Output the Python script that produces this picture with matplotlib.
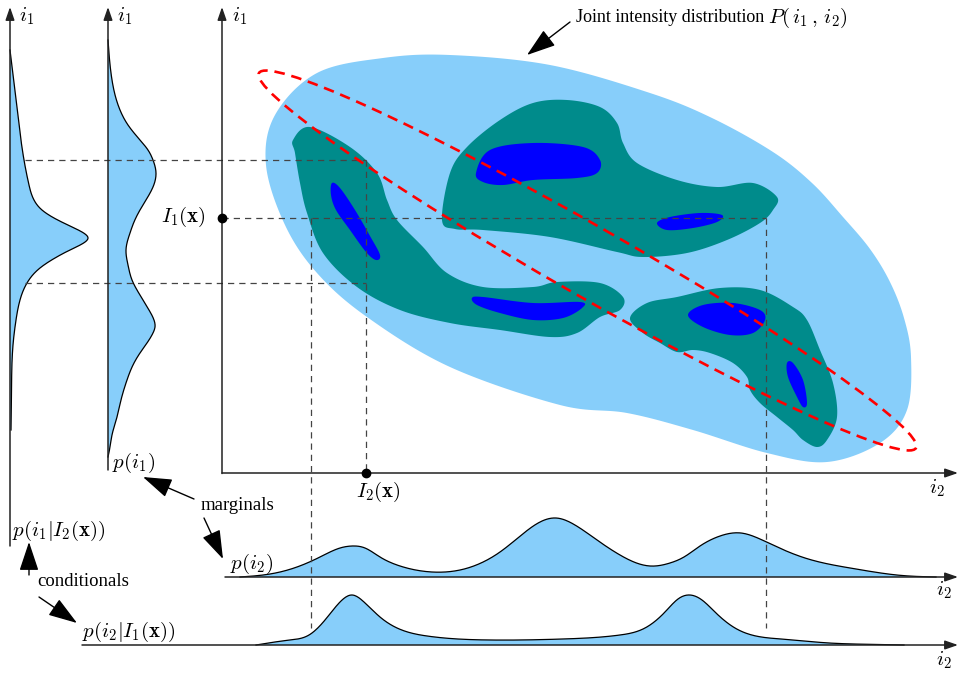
import numpy as np
import matplotlib
matplotlib.use('Agg')
import matplotlib.pyplot as plt
from matplotlib.patches import Polygon, Ellipse

plt.rcParams['mathtext.fontset'] = 'cm'
plt.rcParams['font.family'] = ['Liberation Serif', 'DejaVu Serif']

# ---------------- data (pixel-space diagram values) ----------------
# conditional p(i1 | I2(x)) : position along i1 axis, density value
cond_i1_pos = [50, 100, 133, 160, 185, 200, 210, 218, 226, 232, 238, 244, 250, 258, 268, 283, 300, 320, 345, 390, 430]
cond_i1_val = [0, 6, 10, 14, 19, 24, 32, 44, 60, 72, 78, 72, 60, 45, 30, 17, 10, 6, 3, 1.5, 1]

# marginal p(i1)
marg_i1_pos = [40, 80, 110, 125, 140, 150, 160, 173, 187, 200, 210, 222, 233, 250, 265, 280, 290, 300, 310,
               320, 327, 333, 343, 353, 365, 380, 400, 417, 435, 447, 457]
marg_i1_val = [0, 4, 12, 20, 32, 40, 45, 48, 45, 38, 32, 26, 22, 18, 20, 24, 29, 35, 41,
               46, 47, 45, 39, 32, 25, 19, 13, 9, 4, 2, 0]

# marginal p(i2)
marg_i2_pos = [240, 270, 297, 320, 340, 352, 365, 380, 400, 432, 460, 481, 500, 519, 540, 556, 575, 597, 620,
               650, 670, 684, 700, 720, 741, 760, 775, 805, 853, 902, 936]
marg_i2_val = [0, 3, 10, 20, 29, 31, 29, 20, 11, 5, 7, 14, 25, 40, 55, 59, 52, 37, 22,
               11, 14, 20, 31, 41, 44, 38, 31, 19, 8.5, 1.5, 0]

# conditional p(i2 | I1(x))
cond_i2_pos = [256, 290, 309, 325, 340, 352, 364, 380, 395, 427, 490, 563, 620, 645, 665, 678, 690, 702, 716,
               735, 781, 829, 880, 904]
cond_i2_val = [0, 5, 10, 25, 43, 50, 43, 28, 18, 9, 5, 6, 10, 17, 33, 46, 50, 45, 32,
               17, 6, 2, 0.5, 0]

# joint distribution contour outlines
joint_outer = [(266, 165), (275, 115), (317, 73), (383, 58), (450, 55), (550, 65), (650, 93), (712, 118),
               (773, 152), (812, 183), (843, 217), (870, 249), (890, 282), (904, 318), (911, 357), (907, 410),
               (880, 443), (827, 462), (767, 453), (693, 430), (627, 413), (560, 405), (450, 367), (367, 317),
               (317, 273), (285, 225)]

joint_mid_a = [(293, 140), (310, 127), (350, 147), (377, 173), (387, 200), (397, 220), (423, 247),
               (447, 273), (483, 287), (533, 287), (557, 282), (600, 283), (623, 297), (620, 310),
               (600, 317), (577, 333), (550, 337), (500, 330), (450, 323), (400, 310), (357, 287),
               (323, 253), (307, 213), (300, 183), (295, 153)]
joint_mid_b = [(442, 220), (450, 173), (467, 147), (500, 120), (533, 103), (567, 100), (600, 107),
               (617, 123), (623, 143), (637, 163), (677, 180), (717, 187), (753, 183), (777, 197),
               (773, 210), (760, 223), (727, 240), (687, 253), (643, 257), (617, 252), (550, 237),
               (483, 230), (455, 229)]
joint_mid_c = [(630, 318), (647, 303), (677, 297), (720, 288), (760, 290), (793, 307), (807, 320),
               (820, 350), (833, 383), (837, 417), (827, 440), (817, 447), (803, 440), (793, 430),
               (777, 417), (760, 403), (750, 390), (747, 377), (733, 363), (710, 353), (693, 350),
               (677, 352), (660, 343), (643, 333)]

joint_core = [
    [(332, 183), (340, 188), (355, 210), (370, 236), (380, 255), (376, 260), (366, 252), (350, 230), (336, 210), (331, 195)],
    [(476, 173), (490, 150), (533, 143), (583, 147), (600, 160), (597, 173), (577, 178), (533, 180), (503, 185), (483, 182)],
    [(657, 223), (670, 217), (700, 213), (722, 215), (717, 222), (693, 228), (667, 230)],
    [(472, 298), (483, 297), (533, 303), (580, 302), (582, 308), (563, 318), (533, 320), (500, 313), (477, 305)],
    [(688, 315), (703, 305), (733, 303), (760, 310), (765, 320), (753, 333), (730, 335), (703, 327)],
    [(787, 363), (793, 363), (803, 380), (807, 403), (803, 407), (797, 397), (788, 377)],
]

# red dashed ellipse: tips of major axis and semi-minor length
ell_tip_a = (259, 73)
ell_tip_b = (916, 448)
ell_semi_minor = 35

# observation point
I1_level = 218
I2_level = 366
upper_i1, lower_i1 = 160, 283
left_i2, right_i2 = 311, 766

# ---------------- figure ----------------
W, H = 959, 673
fig = plt.figure(figsize=(W / 100, H / 100), dpi=100)
ax = fig.add_axes([0, 0, 1, 1])
ax.set_xlim(0, W)
ax.set_ylim(H, 0)
ax.axis('off')


def catmull(pts, closed, n=24):
    P = np.asarray(pts, float)
    if closed:
        P = np.vstack([P[-1], P, P[0], P[1]])
    else:
        P = np.vstack([P[0], P, P[-1]])
    out = []
    t = np.linspace(0, 1, n, endpoint=False)[:, None]
    for i in range(1, len(P) - 2):
        p0, p1, p2, p3 = P[i - 1], P[i], P[i + 1], P[i + 2]
        seg = 0.5 * ((2 * p1) + (-p0 + p2) * t + (2 * p0 - 5 * p1 + 4 * p2 - p3) * t ** 2
                     + (-p0 + 3 * p1 - 3 * p2 + p3) * t ** 3)
        out.append(seg)
    if not closed:
        out.append(P[-2][None, :])
    return np.vstack(out)


def natural_spline(x, y, n=600):
    x = np.asarray(x, float)
    y = np.asarray(y, float)
    m = len(x)
    h = np.diff(x)
    A = np.zeros((m, m))
    r = np.zeros(m)
    A[0, 0] = A[-1, -1] = 1
    for i in range(1, m - 1):
        A[i, i - 1] = h[i - 1]
        A[i, i] = 2 * (h[i - 1] + h[i])
        A[i, i + 1] = h[i]
        r[i] = 3 * ((y[i + 1] - y[i]) / h[i] - (y[i] - y[i - 1]) / h[i - 1])
    c = np.linalg.solve(A, r)
    b = (y[1:] - y[:-1]) / h - h * (2 * c[:-1] + c[1:]) / 3
    d = (c[1:] - c[:-1]) / (3 * h)
    xs = np.linspace(x[0], x[-1], n)
    idx = np.clip(np.searchsorted(x, xs) - 1, 0, m - 2)
    dx = xs - x[idx]
    ys = y[idx] + b[idx] * dx + c[idx] * dx ** 2 + d[idx] * dx ** 3
    return xs, np.clip(ys, 0, None)


LB = '#87CEFA'
TEAL = '#008B8B'
BLUE = '#0000FF'

# joint blobs
ax.add_patch(Polygon(catmull(joint_outer, True), closed=True, fc=LB, ec='none', zorder=1))
for blob in (joint_mid_a, joint_mid_b, joint_mid_c):
    ax.add_patch(Polygon(catmull(blob, True), closed=True, fc=TEAL, ec='none', zorder=2))
for blob in joint_core:
    ax.add_patch(Polygon(catmull(blob, True), closed=True, fc=BLUE, ec='none', zorder=3))

# red ellipse
cx = (ell_tip_a[0] + ell_tip_b[0]) / 2
cy = (ell_tip_a[1] + ell_tip_b[1]) / 2
dx = ell_tip_b[0] - ell_tip_a[0]
dy = ell_tip_b[1] - ell_tip_a[1]
ax.add_patch(Ellipse((cx, cy), np.hypot(dx, dy), 2 * ell_semi_minor, angle=np.degrees(np.arctan2(dy, dx)),
                     fill=False, ec='red', lw=1.9, ls=(0, (4, 2.6)), zorder=6))


# distributions
def vert_dist(x0, pos, val):
    ys, v = natural_spline(pos, val)
    xs = x0 + v
    ax.add_patch(Polygon(np.column_stack([np.r_[x0, xs, x0], np.r_[ys[0], ys, ys[-1]]]),
                         closed=True, fc=LB, ec='none', zorder=2))
    ax.plot(xs, ys, color='black', lw=0.9, zorder=4)


def horiz_dist(y0, pos, val):
    xs, v = natural_spline(pos, val)
    ys = y0 - v
    ax.add_patch(Polygon(np.column_stack([np.r_[xs[0], xs, xs[-1]], np.r_[y0, ys, y0]]),
                         closed=True, fc=LB, ec='none', zorder=2))
    ax.plot(xs, ys, color='black', lw=0.9, zorder=4)


vert_dist(10, cond_i1_pos, cond_i1_val)
vert_dist(108, marg_i1_pos, marg_i1_val)
horiz_dist(577, marg_i2_pos, marg_i2_val)
horiz_dist(645, cond_i2_pos, cond_i2_val)

# gray dashed guides
dkw = dict(color='#444444', lw=0.9, ls=(0, (5, 4)), zorder=5)
ax.plot([25, I2_level], [upper_i1, upper_i1], **dkw)
ax.plot([25, I2_level], [lower_i1, lower_i1], **dkw)
ax.plot([I2_level, I2_level], [upper_i1, 473], **dkw)
ax.plot([222, right_i2], [I1_level, I1_level], **dkw)
ax.plot([left_i2, left_i2], [I1_level, 628], **dkw)
ax.plot([right_i2, right_i2], [I1_level, 628], **dkw)

# axes with arrows
akw = dict(arrowstyle='-|>,head_length=1.3,head_width=0.45', color='#222222', lw=1.1,
           mutation_scale=6, shrinkA=0, shrinkB=0)


def axis_arrow(x0, y0, x1, y1):
    ax.annotate('', xy=(x1, y1), xytext=(x0, y0), arrowprops=akw, zorder=7)


axis_arrow(10, 546, 10, 7)
axis_arrow(108, 470, 108, 7)
axis_arrow(222, 473.5, 222, 7)
axis_arrow(222, 473, 958, 473)
axis_arrow(225, 577, 958, 577)
axis_arrow(82, 645, 958, 645)

# points
ax.plot([222], [I1_level], 'o', color='black', ms=6, zorder=8)
ax.plot([I2_level], [473], 'o', color='black', ms=6, zorder=8)

# labels
fm = 15
ax.text(19, 16, '$i_1$', fontsize=fm, va='center', ha='left')
ax.text(117, 16, '$i_1$', fontsize=fm, va='center', ha='left')
ax.text(232, 16, '$i_1$', fontsize=fm, va='center', ha='left')
ax.text(929, 488, '$i_2$', fontsize=fm, va='center', ha='left')
ax.text(936, 590, '$i_2$', fontsize=fm, va='center', ha='left')
ax.text(936, 660, '$i_2$', fontsize=fm, va='center', ha='left')
ax.text(206, 217, r'$I_1(\mathbf{x})$', fontsize=fm, va='center', ha='right')
ax.text(378, 492, r'$I_2(\mathbf{x})$', fontsize=fm, va='center', ha='center')
ax.text(112, 463, r'$p(i_1)$', fontsize=fm, va='center', ha='left')
ax.text(12, 531, r'$p(i_1|I_2(\mathbf{x}))$', fontsize=fm, va='center', ha='left')
ax.text(230, 564, r'$p(i_2)$', fontsize=fm, va='center', ha='left')
ax.text(82, 632, r'$p(i_2|I_1(\mathbf{x}))$', fontsize=fm, va='center', ha='left')
ax.text(576, 18, 'Joint intensity distribution', fontsize=13, va='center', ha='left')
ax.text(768, 18, r'$P(\,i_1\,,\,i_2)$', fontsize=fm, va='center', ha='left')
ax.text(201, 506, 'marginals', fontsize=13.5, va='center', ha='left')
ax.text(37, 581, 'conditionals', fontsize=13.5, va='center', ha='left')

# annotation arrows
bkw = dict(arrowstyle='-|>,head_length=0.9,head_width=0.3', color='black', lw=1.0,
           mutation_scale=20, shrinkA=0, shrinkB=0)
ax.annotate('', xy=(527, 55), xytext=(570, 22), arrowprops=bkw)
ax.annotate('', xy=(143, 477), xytext=(194, 499), arrowprops=bkw)
ax.annotate('', xy=(223, 559), xytext=(204, 518), arrowprops=bkw)
ax.annotate('', xy=(29, 542), xytext=(29, 575), arrowprops=bkw)
ax.annotate('', xy=(77, 623), xytext=(39, 597), arrowprops=bkw)

fig.savefig('out.png', dpi=100)
